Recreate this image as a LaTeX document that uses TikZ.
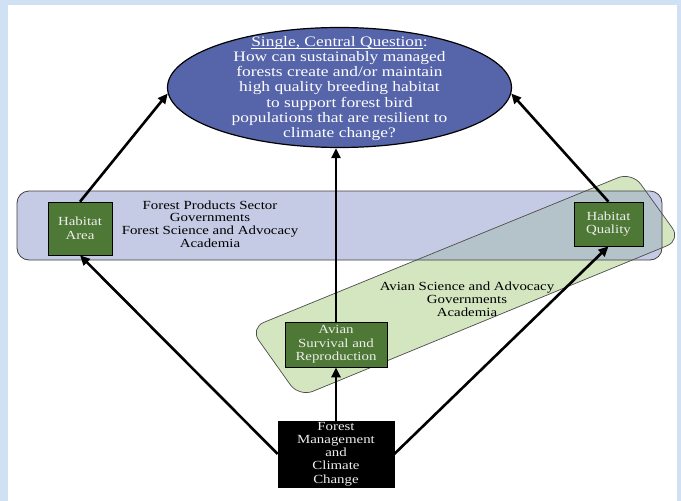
\documentclass[tikz,border=0pt]{standalone}
\usepackage{fontspec}
\setmainfont{Liberation Serif}[FakeStretch=1.2]
\usetikzlibrary{arrows.meta,shapes.geometric}
\definecolor{framecol}{HTML}{CFE1F3}
\definecolor{bandblue}{HTML}{C5CBE5}
\definecolor{bandgreen}{HTML}{D3E6C0}
\definecolor{overlapcol}{HTML}{B4C3C9}
\definecolor{qblue}{HTML}{5664AA}
\definecolor{boxgreen}{HTML}{4E7835}
\definecolor{boxtext}{HTML}{EDEDED}
\newcommand{\myuline}[1]{{\setbox0\hbox{#1}\rlap{\rule[-2.2pt]{\wd0}{0.7pt}}\box0}}
\begin{document}
\begin{tikzpicture}[x=1pt,y=-1pt,
  box/.style={draw=black, line width=0.6pt, fill=boxgreen, text=boxtext, align=center, inner sep=0pt, font=\fontsize{12.4}{13.5}\selectfont},
  fmbox/.style={draw=black, line width=0.6pt, fill=black, text=boxtext, align=center, inner sep=0pt, font=\fontsize{12.4}{13.2}\selectfont},
  arr/.style={line width=2.6pt, -{Triangle[length=10pt,width=9pt]}},
  lbl/.style={align=center, inner sep=0pt, font=\fontsize{12.4}{12.8}\selectfont},
  bluebandpath/.style={rounded corners=12pt},
  greenbandpath/.style={rounded corners=15pt}]
\useasboundingbox (0,0) rectangle (681,501);
\fill[framecol] (0,0) rectangle (681,501);
\fill[white] (8,5) rectangle (677,501);
% bands
\fill[bandblue, bluebandpath] (17,191) rectangle (662,260);
\fill[bandgreen, greenbandpath] (441,250) -- (632,172) -- (681,240) -- (299,397) -- (250,328) -- cycle;
\begin{scope}
  \clip[bluebandpath] (17,191) rectangle (662,260);
  \fill[overlapcol, greenbandpath] (441,250) -- (632,172) -- (681,240) -- (299,397) -- (250,328) -- cycle;
\end{scope}
\draw[black!75, line width=0.8pt, bluebandpath] (17,191) rectangle (662,260);
\draw[black!70, line width=0.7pt, greenbandpath] (441,250) -- (632,172) -- (681,240) -- (299,397) -- (250,328) -- cycle;
% band labels
\node[lbl] (t1) at (210,224) {Forest Products Sector\\Governments\\Forest Science and Advocacy\\Academia};
\node[lbl] (t2) at (467,299) {Avian Science and Advocacy\\Governments\\Academia};
% question
\node[ellipse, draw=black, line width=1.2pt, fill=qblue, minimum width=344pt, minimum height=120pt, inner sep=0pt] (Q) at (339.5,87.5) {};
\node[align=center, text=white, inner sep=0pt, font=\fontsize{14.5}{15.2}\selectfont] (Qt) at (339.5,88.5)
  {\myuline{Single, Central Question}:\\How can sustainably managed\\forests create and/or maintain\\high quality breeding habitat\\to support forest bird\\populations that are resilient to\\climate change?};
% boxes
\node[box, minimum width=64pt, minimum height=53pt] (HA) at (80,228.5) {Habitat\\Area};
\node[box, minimum width=69pt, minimum height=44pt] (HQ) at (608.5,224) {Habitat\\Quality};
\node[box, minimum width=102pt, minimum height=45pt] (AS) at (336,344.5) {Avian\\Survival and\\Reproduction};
\node[fmbox, minimum width=116pt, minimum height=66pt] (FM) at (336,454) {Forest\\Management\\and\\Climate\\Change};
% arrows
\draw[arr] (HA.north) -- (Q.182);
\draw[arr] (HQ.north) -- (Q.358);
\draw[arr] (AS.north) -- (AS.north |- Q.south);
\draw[arr] (FM.north) -- (AS.south);
\draw[arr] (FM.west) -- (HA.south);
\draw[arr] (FM.east) -- (HQ.south);
\end{tikzpicture}
\end{document}
